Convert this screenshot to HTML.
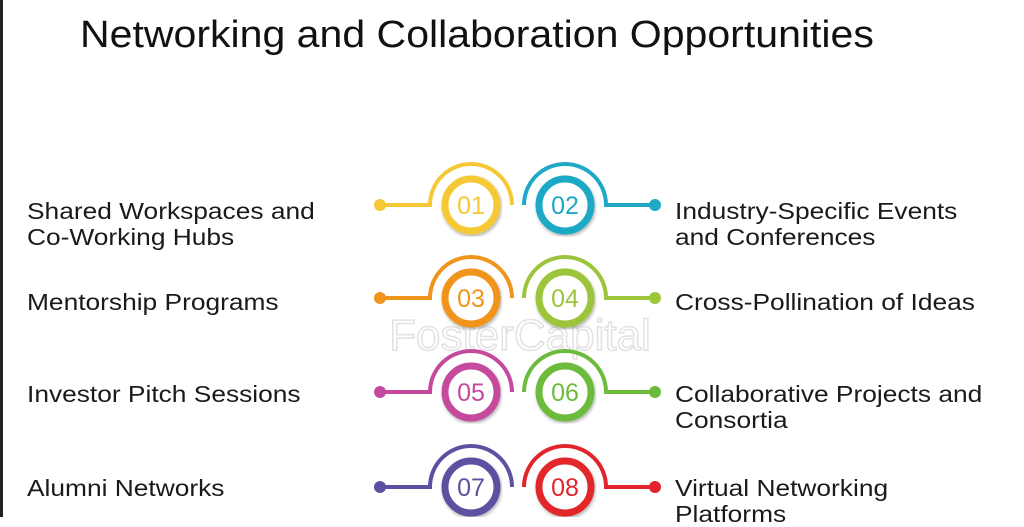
<!DOCTYPE html>
<html><head><style>
body{margin:0;width:1024px;height:517px;overflow:hidden;background:#fff;font-family:"Liberation Sans",sans-serif;position:relative}
.t{position:absolute;color:#1a1a1a;font-size:23.5px;line-height:26px;white-space:nowrap;transform:scaleX(1.12);transform-origin:0 0}
</style></head><body>
<div style="position:absolute;left:0;top:0;width:3px;height:517px;background:#222"></div>
<div style="position:absolute;left:80px;top:14px;font-size:38px;color:#111;white-space:nowrap;transform:scaleX(1.08);transform-origin:0 0">Networking and Collaboration Opportunities</div>
<div class="t" style="left:27px;top:198px">Shared Workspaces and<br>Co-Working Hubs</div>
<div class="t" style="left:27px;top:289px">Mentorship Programs</div>
<div class="t" style="left:27px;top:381px">Investor Pitch Sessions</div>
<div class="t" style="left:27px;top:475px">Alumni Networks</div>
<div class="t" style="left:675px;top:198px">Industry-Specific Events<br>and Conferences</div>
<div class="t" style="left:675px;top:289px">Cross-Pollination of Ideas</div>
<div class="t" style="left:675px;top:381px">Collaborative Projects and<br>Consortia</div>
<div class="t" style="left:675px;top:475px">Virtual Networking<br>Platforms</div>
<svg width="1024" height="517" style="position:absolute;left:0;top:0" font-family="Liberation Sans, sans-serif">
<defs><filter id="s"><feDropShadow dx="1" dy="2" stdDeviation="1.5" flood-opacity="0.3"/></filter></defs>
<text x="520" y="350" font-size="44" fill="none" stroke="#e2e2e2" stroke-width="1.5" text-anchor="middle">FosterCapital</text>
<g fill="none" stroke-width="4">
<g stroke="#f5c935"><path d="M380 205H430A41 41 0 0 1 512 205"/><circle cx="471" cy="205" r="26" stroke-width="7" fill="#fff" filter="url(#s)"/></g>
<g stroke="#f0941e"><path d="M380 298H430A41 41 0 0 1 512 298"/><circle cx="471" cy="298" r="26" stroke-width="7" fill="#fff" filter="url(#s)"/></g>
<g stroke="#c54a9d"><path d="M380 392H430A41 41 0 0 1 512 392"/><circle cx="471" cy="392" r="26" stroke-width="7" fill="#fff" filter="url(#s)"/></g>
<g stroke="#5f4fa0"><path d="M380 487H430A41 41 0 0 1 512 487"/><circle cx="471" cy="487" r="26" stroke-width="7" fill="#fff" filter="url(#s)"/></g>
<g stroke="#1fa9c6"><path d="M655 205H606A41 41 0 0 0 524 205"/><circle cx="565" cy="205" r="26" stroke-width="7" fill="#fff" filter="url(#s)"/></g>
<g stroke="#9dc53b"><path d="M655 298H606A41 41 0 0 0 524 298"/><circle cx="565" cy="298" r="26" stroke-width="7" fill="#fff" filter="url(#s)"/></g>
<g stroke="#6cbb3c"><path d="M655 392H606A41 41 0 0 0 524 392"/><circle cx="565" cy="392" r="26" stroke-width="7" fill="#fff" filter="url(#s)"/></g>
<g stroke="#e2252c"><path d="M655 487H606A41 41 0 0 0 524 487"/><circle cx="565" cy="487" r="26" stroke-width="7" fill="#fff" filter="url(#s)"/></g>
</g>
<circle cx="380" cy="205" r="6" fill="#f5c935"/><circle cx="380" cy="298" r="6" fill="#f0941e"/><circle cx="380" cy="392" r="6" fill="#c54a9d"/><circle cx="380" cy="487" r="6" fill="#5f4fa0"/>
<circle cx="655" cy="205" r="6" fill="#1fa9c6"/><circle cx="655" cy="298" r="6" fill="#9dc53b"/><circle cx="655" cy="392" r="6" fill="#6cbb3c"/><circle cx="655" cy="487" r="6" fill="#e2252c"/>
<g font-size="25" text-anchor="middle">
<text x="471" y="214" fill="#f5c935">01</text><text x="565" y="214" fill="#1fa9c6">02</text>
<text x="471" y="307" fill="#f0941e">03</text><text x="565" y="307" fill="#9dc53b">04</text>
<text x="471" y="401" fill="#c54a9d">05</text><text x="565" y="401" fill="#6cbb3c">06</text>
<text x="471" y="496" fill="#5f4fa0">07</text><text x="565" y="496" fill="#e2252c">08</text>
</g>
</svg>
</body></html>
